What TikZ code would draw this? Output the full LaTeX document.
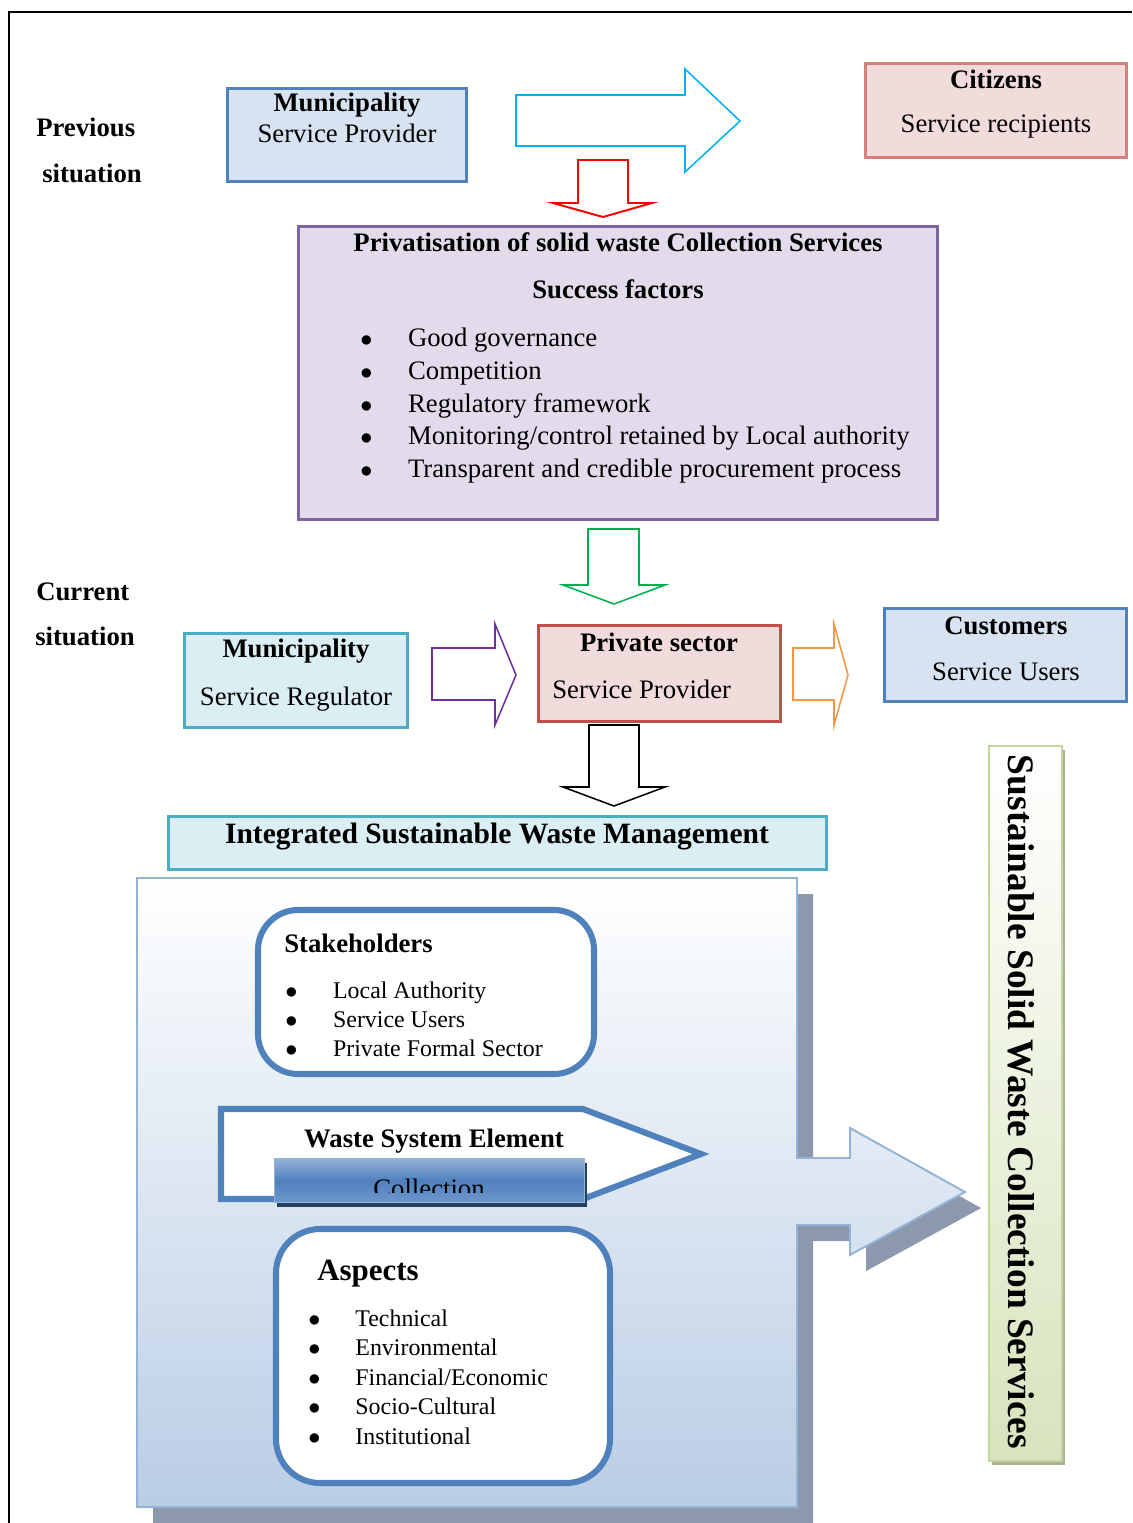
\documentclass[tikz,border=0pt]{standalone}
\usepackage{fontspec}
\setmainfont{Liberation Serif}
\usetikzlibrary{shadows}

\definecolor{accentblue}{RGB}{79,129,189}
\definecolor{lightblue}{RGB}{216,227,241}
\definecolor{rosefill}{RGB}{242,220,219}
\definecolor{roseline}{RGB}{192,80,77}
\definecolor{citizenline}{RGB}{212,128,126}
\definecolor{lavender}{RGB}{226,219,235}
\definecolor{purpleline}{RGB}{128,100,162}
\definecolor{aquafill}{RGB}{218,238,243}
\definecolor{aqualine}{RGB}{75,172,198}
\definecolor{greenfill}{RGB}{215,228,189}
\definecolor{greenline}{RGB}{195,214,155}
\definecolor{greenshadow}{RGB}{168,178,150}
\definecolor{panelblue}{RGB}{185,205,229}
\definecolor{panelline}{RGB}{149,179,215}
\definecolor{shadowgray}{RGB}{140,152,172}
\definecolor{collecttop}{RGB}{149,179,215}
\definecolor{collectbottom}{RGB}{110,150,205}
\definecolor{collectshadow}{RGB}{36,63,96}
\definecolor{arrowcyan}{RGB}{0,176,240}
\definecolor{arrowred}{RGB}{255,0,0}
\definecolor{arrowgreen}{RGB}{0,176,80}
\definecolor{arrowpurple}{RGB}{112,48,160}
\definecolor{arroworange}{RGB}{247,150,70}

\tikzset{boxsize/.style 2 args={minimum width=#1*0.025cm, minimum height=#2*0.025cm, inner sep=0pt, outer sep=0pt}}

\begin{document}
\begin{tikzpicture}[
  x=0.025cm, y=-0.025cm,
  flat box/.style={draw, line width=2.1pt},
  head text/.style={font=\fontsize{19}{23}\selectfont\bfseries, inner sep=0pt, anchor=base},
  body text/.style={font=\fontsize{19}{23}\selectfont, inner sep=0pt, anchor=base},
  list item/.style={font=\fontsize{17}{20}\selectfont, inner sep=0pt, anchor=base west},
  block arrow/.style={line width=1.1pt, fill=white, line join=miter},
  round panel/.style={draw=accentblue, line width=4.3pt, fill=white, rounded corners=1cm}
]
  \useasboundingbox (0,0) rectangle (1132,1523);
  % page frame
  \draw[line width=1.4pt] (9,1523) -- (9,12) -- (1132,12);

  % previous situation
  \node[head text, anchor=base west] (prev label a) at (36,137) {Previous};
  \node[head text, anchor=base west] (prev label b) at (42,183) {situation};

  \node[flat box, draw=accentblue, fill=lightblue, boxsize={239}{93}] (provider) at (347,135) {};
  \node[head text] (provider head) at (347,112) {Municipality};
  \node[body text] (provider role) at (347,143) {Service Provider};

  \draw[block arrow, draw=arrowcyan] (516,95) -- (685,95) -- (685,69) -- (740,121)
    -- (685,172) -- (685,146) -- (516,146) -- cycle;

  \node[flat box, draw=citizenline, fill=rosefill, boxsize={261}{94}] (citizens) at (996,110.5) {};
  \node[head text] (citizens head) at (996,89) {Citizens};
  \node[body text] (citizens role) at (996,133) {Service recipients};

  \draw[block arrow, draw=arrowred, line width=1.4pt] (578,160) -- (628,160) -- (628,203) -- (652,203)
    -- (603,217) -- (553,203) -- (578,203) -- cycle;

  % privatisation
  \node[flat box, draw=purpleline, fill=lavender, boxsize={639}{293}] (privatisation) at (618,373) {};
  \node[head text] (privatisation head) at (618,252) {Privatisation of solid waste Collection Services};
  \node[head text] (factors head) at (618,299) {Success factors};
  \foreach \txt [count=\i from 0] in {Good governance, Competition, Regulatory framework,
      Monitoring/control retained by Local authority, Transparent and credible procurement process}
    \node[body text, anchor=base west] (factor \i) at (360,347+32.5*\i) {\makebox[34pt][l]{$\bullet$}\txt};

  \draw[block arrow, draw=arrowgreen] (588,529) -- (639,529) -- (639,585) -- (665,585)
    -- (614,604) -- (563,585) -- (588,585) -- cycle;

  % current situation
  \node[head text, anchor=base west] (curr label a) at (36,600) {Current};
  \node[head text, anchor=base west] (curr label b) at (35,645) {situation};

  \node[flat box, draw=aqualine, fill=aquafill, boxsize={223}{94}] (regulator) at (296,680.5) {};
  \node[head text] (regulator head) at (296,657) {Municipality};
  \node[body text] (regulator role) at (296,705) {Service Regulator};

  \draw[block arrow, draw=arrowpurple] (432,648) -- (495,648) -- (495,624) -- (516,675)
    -- (495,725) -- (495,700) -- (432,700) -- cycle;

  \node[flat box, draw=roseline, fill=rosefill, boxsize={242}{96}] (private) at (659.5,673.5) {};
  \node[head text] (private head) at (659,651) {Private sector};
  \node[body text, anchor=base west] (private role) at (552,698) {Service Provider};

  \draw[block arrow, draw=arroworange] (793,648) -- (834,648) -- (834,624) -- (848,675)
    -- (834,725) -- (834,700) -- (793,700) -- cycle;

  \node[flat box, draw=accentblue, fill=lightblue, boxsize={242}{93}] (customers) at (1005.5,655) {};
  \node[head text] (customers head) at (1006,634) {Customers};
  \node[body text] (customers role) at (1006,680) {Service Users};

  \draw[block arrow] (589,725) -- (639,725) -- (639,787) -- (665,787)
    -- (614,806) -- (563,787) -- (589,787) -- cycle;

  % integrated sustainable waste management
  \node[flat box, draw=aqualine, fill=aquafill, boxsize={658}{53}] (iswm) at (497.5,843) {};
  \node[head text, font=\fontsize{21}{25}\selectfont\bfseries] (iswm head) at (497,843) {Integrated Sustainable Waste Management};

  \path[draw=panelline, line width=1.4pt, top color=white, bottom color=panelblue,
    drop shadow={shadow xshift=11.4pt, shadow yshift=-11.4pt, fill=shadowgray, opacity=1}]
    (137,878) -- (797,878) -- (797,1158) -- (850,1158) -- (850,1128) -- (965,1192)
    -- (850,1255) -- (850,1225) -- (797,1225) -- (797,1507) -- (137,1507) -- cycle;

  \node[round panel, boxsize={336}{164}] (stakeholders) at (426,992) {};
  \node[head text, anchor=base west] (stakeholders head) at (284,952) {Stakeholders};
  \foreach \txt [count=\i from 0] in {Local Authority, Service Users, Private Formal Sector}
    \node[list item] (stakeholder \i) at (285,998+29*\i) {\makebox[34pt][l]{$\bullet$}\txt};

  \draw[draw=accentblue, line width=4.3pt, fill=white, line join=miter]
    (221,1109) -- (583,1109) -- (701,1154) -- (583,1199) -- (221,1199) -- cycle;
  \node[head text] (element head) at (434,1147) {Waste System Element};
  \node[boxsize={310}{44}, top color=collecttop, bottom color=collectbottom, middle color=accentblue,
    draw=collecttop, line width=0.7pt,
    drop shadow={shadow xshift=2pt, shadow yshift=-3pt, fill=collectshadow, opacity=1}] (collect bar) at (429,1180.5) {};
  \begin{scope}
    \clip (273,1158) rectangle (585,1192);
    \node[body text] (collect text) at (429,1197) {Collection};
  \end{scope}

  \node[round panel, rounded corners=1.1cm, boxsize={334}{254}] (aspects) at (443,1356) {};
  \node[head text, anchor=base west, font=\fontsize{22}{26}\selectfont\bfseries] (aspects head) at (317,1280) {Aspects};
  \foreach \txt [count=\i from 0] in {Technical, Environmental, Financial/Economic, Socio-Cultural, Institutional}
    \node[list item] (aspect \i) at (308,1326+29.5*\i) {\makebox[33.5pt][l]{$\bullet$}\txt};

  % sustainable services
  \node[boxsize={73}{715}, draw=greenline, line width=1.4pt, top color=white, bottom color=greenfill,
    drop shadow={shadow xshift=2.2pt, shadow yshift=-2.5pt, fill=greenshadow, opacity=1}] (services box) at (1025.5,1103.5) {};
  \node[font=\fontsize{26.6}{30}\selectfont\bfseries, rotate=-90, inner sep=0pt] (services text) at (1021,1102) {Sustainable Solid Waste Collection Services};
\end{tikzpicture}
\end{document}
